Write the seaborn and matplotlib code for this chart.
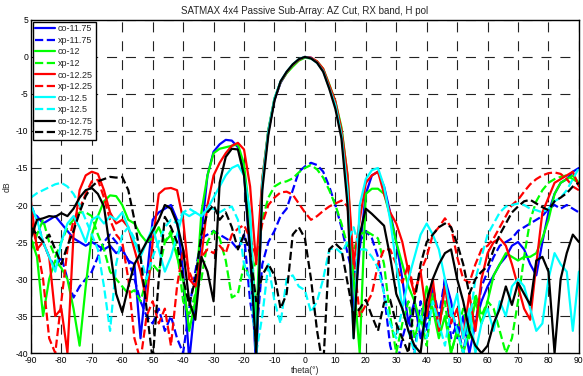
import numpy as np
import pandas as pd
import matplotlib
matplotlib.use("Agg")
import matplotlib.pyplot as plt
import seaborn as sns

# angle grid (deg), one sample every 2 degrees
theta = list(range(-90, 91, 2))

co_1175 = [-21, -21.5, -22.5, -22, -21.5, -22.5, -23.5, -24.5, -25, -25.5,
           -25, -25.5, -26, -25.5, -26.5, -26, -27.5, -28, -38, -30,
           -22, -21, -20.5, -20, -22, -29, -41, -33, -24, -16,
           -12.8, -11.8, -11.2, -11.3, -12.2, -15.5, -27, -42, -17, -10,
           -5.8, -3.5, -2.1, -1.1, -0.4, 0, -0.1, -0.7, -1.8, -4,
           -6.3, -10.2, -18, -35, -26, -18.5, -16, -15.5, -17.5, -21,
           -25, -30, -36, -33, -38, -35, -31, -37, -30, -33,
           -38, -35, -40, -36, -33, -31, -29.5, -28, -27, -25.5,
           -25, -26, -28, -29.5, -25, -21, -18.5, -17, -16.5, -15.5,
           -15]
xp_1175 = [-20, -22, -25, -27, -28.5, -27, -30, -32.5, -31, -30,
           -29, -27, -25, -24, -25, -26, -27.5, -30, -33, -35,
           -36, -34, -37, -35, -38, -40, -34, -29, -24.5, -24,
           -23.5, -24, -24.5, -25, -26, -24, -33, -38, -28, -25,
           -23.5, -21.5, -20.5, -18, -15.5, -14.8, -14.3, -14.6, -15.5, -17.5,
           -20, -23, -26.5, -30, -25, -23.5, -24.5, -27, -32, -39,
           -42, -38, -35, -40, -33, -37, -31, -35, -30, -38,
           -36, -40, -35, -36, -31, -29, -27, -25.5, -25, -24.5,
           -23.5, -23, -22.5, -22, -21.5, -20.5, -20, -20.5, -20, -20.5,
           -21]
co_12 = [-24.5, -27, -35, -30, -27.5, -28.5, -30, -34, -39, -31,
         -24, -21.5, -19.5, -18.7, -18.8, -20, -22, -22.5, -24, -25,
         -24.5, -23, -25, -24, -27, -30, -37, -33, -21, -16,
         -13, -12.4, -12.2, -12, -11.8, -14.5, -22, -36, -16.5, -9.8,
         -5.6, -3.4, -2.2, -1.3, -0.5, -0.1, -0.2, -0.6, -1.6, -3.7,
         -6, -9.5, -16, -30, -40, -18.5, -17.8, -17.8, -18.5, -21.5,
         -25, -28, -31, -33, -36, -31, -34, -38, -35, -40,
         -37, -40, -37, -33, -36, -33, -29.5, -28, -26.5, -27,
         -27.5, -27, -27, -26.5, -24.5, -22, -18.5, -17, -16.5, -16,
         -17]
xp_12 = [-26, -24, -22, -25, -27, -25, -23, -22, -21, -21,
         -21.5, -24, -26, -29, -30, -31, -32, -31.5, -33, -30,
         -28, -29, -25, -23.5, -26, -33, -35, -32, -30, -25,
         -23.5, -24.5, -27.5, -32.5, -32, -28, -30, -27.5, -22, -19,
         -17.5, -17, -16.8, -16.4, -15.6, -15, -14.6, -15.2, -16.3, -18,
         -20, -22.5, -25.5, -26, -24, -23.5, -24, -24.5, -28, -35,
         -40, -36, -33, -38, -35, -39, -32, -36, -33, -40,
         -37, -34, -38, -32, -35, -33, -34, -37, -40, -38,
         -33, -27, -22, -19.5, -18, -17, -16.5, -16.2, -16, -16.5,
         -17]
co_1225 = [-19.5, -26, -25, -27, -35, -34, -40, -24, -18, -16,
           -15.5, -15.8, -18, -21, -22.5, -22, -23, -26, -29, -33,
           -25, -18.5, -17.8, -17.7, -18, -22, -30, -31, -27, -20,
           -16, -14.3, -13, -12, -11.6, -12.5, -17.5, -28, -16.5, -10,
           -5.7, -3.4, -2.1, -1.1, -0.4, 0, -0.1, -0.6, -1.6, -3.8,
           -6, -9.8, -16, -28, -22, -17, -16, -15.5, -18.5, -21,
           -22.5, -25, -29, -32, -29, -35, -30, -37, -31, -36,
           -34, -38, -32, -37, -30, -26.5, -25, -24.5, -25.5, -28,
           -31, -34, -35.5, -28, -21, -19, -17, -16.5, -16, -15.5,
           -17.5]
xp_1225 = [-22, -25.5, -30, -38, -40, -33, -26, -22, -20.5, -18.5,
           -16.8, -16.6, -19, -22, -24, -25, -30, -38, -41, -35,
           -33, -36, -34, -39, -31, -26, -29, -31, -27, -26,
           -26.5, -25.5, -26.5, -24, -23.2, -22.7, -24.5, -27, -22.5, -20,
           -19, -18.3, -18.2, -18.6, -19.8, -21, -22, -21.5, -20.8, -20.2,
           -19.8, -19.4, -20.2, -27, -35, -33.5, -32, -28, -26, -26,
           -28, -30.5, -28, -32, -29, -27, -24, -23, -21.8, -23,
           -27, -30, -30.5, -28, -26, -25.5, -24.5, -23, -21.5, -20,
           -19.3, -18.2, -17.2, -16.5, -16, -15.7, -15.6, -15.8, -16.5, -17.5,
           -18]
co_125 = [-20, -22, -25, -27, -29, -25, -22.5, -21.5, -23, -25,
          -22, -21.5, -22.5, -21.5, -22, -21, -23, -25, -27, -25,
          -23, -26, -29, -27, -24, -21, -21.5, -21, -21.5, -20.5,
          -19, -17.5, -16, -15, -14.6, -16, -21, -40, -17, -10,
          -5.6, -3.3, -2.0, -1.0, -0.3, 0, -0.2, -0.8, -1.9, -4.2,
          -6.5, -10.5, -18, -38, -20, -16.5, -15.3, -15, -17.5, -22,
          -28, -34, -30, -27, -24, -22.5, -24, -26, -30, -35,
          -32, -38, -34, -40, -36, -34, -37, -33, -35, -31,
          -30, -31, -34, -37, -36, -30, -26.5, -28, -29, -37,
          -29]
xp_125 = [-19, -18.4, -18, -17.6, -17.2, -17, -17.5, -18.5, -20, -22,
          -24, -26, -31, -37, -28, -24, -23, -24.5, -27, -30,
          -27, -25, -23, -22, -22.5, -21, -20.5, -21, -21.5, -20.5,
          -20.5, -21, -20.5, -20.2, -22, -28, -30, -40, -35, -28,
          -33, -36, -30, -29.5, -31, -31.5, -34.5, -33, -30, -26,
          -25.8, -26.5, -25, -23, -26, -26, -27, -28.5, -32, -36,
          -38, -34, -37, -40, -35, -38, -33, -36, -39, -34,
          -37, -40, -36, -30, -27, -24, -22.5, -21, -20.2, -20,
          -19.8, -20, -20.5, -20.7, -21, -20.5, -19.5, -19, -18, -16.5,
          -15]
co_1275 = [-24.5, -22, -21.8, -21.5, -21.6, -21.1, -21.5, -20.5, -19, -18,
           -17.7, -18.5, -20.2, -26, -32, -34.5, -31, -28, -26.5, -25,
           -23.5, -22, -20, -20.5, -22.5, -26, -33, -35.5, -27, -29,
           -33, -17, -13.5, -12.4, -12.5, -16, -26, -40, -18, -10.5,
           -5.9, -3.3, -2.0, -1.0, -0.3, 0, -0.2, -0.8, -2.0, -4.3,
           -7, -11, -20, -38, -24, -20.5, -21.2, -22, -22.8, -27,
           -32, -34, -37, -39, -40, -33, -30, -28, -26.5, -26,
           -30, -33, -37, -39, -40, -39, -36, -34, -31, -33.5,
           -30.5, -32, -33.5, -27.5, -27, -29, -40, -30, -26.5, -24,
           -25]
xp_1275 = [-23, -24, -25, -24, -26, -28, -25.5, -23.5, -21, -18.8,
           -17.5, -16.8, -16.5, -16.2, -16.3, -16.2, -18, -22, -27, -34,
           -41, -30, -21.6, -23, -25, -30, -33.5, -30, -24, -21,
           -20, -22, -21, -23, -26, -24, -26.5, -33, -29.5, -28,
           -29.5, -34, -32, -24, -23, -24.5, -30, -37, -42, -26,
           -25.2, -26, -30.5, -35, -34, -32.8, -35, -37, -33.2, -32.8,
           -36, -38, -40, -33, -28, -25, -24, -23, -22.5, -23,
           -25.2, -28, -32, -30, -29, -28.3, -26, -24, -22.5, -21,
           -20.2, -19.5, -19.3, -19.8, -20.3, -20.7, -19.5, -19, -18.4, -17.5,
           -17]

labels = ['co-11.75', 'xp-11.75', 'co-12', 'xp-12', 'co-12.25', 'xp-12.25',
          'co-12.5', 'xp-12.5', 'co-12.75', 'xp-12.75']
series = [co_1175, xp_1175, co_12, xp_12, co_1225, xp_1225,
          co_125, xp_125, co_1275, xp_1275]
colors = ['#0000ff', '#0000ff', '#00ff00', '#00ff00', '#ff0000', '#ff0000',
          '#00ffff', '#00ffff', '#000000', '#000000']
styles = ['-', '--'] * 5

for s in series:
    assert len(s) == len(theta)

sns.set_style("white")
plt.rcParams['font.family'] = ['Liberation Sans', 'DejaVu Sans']
plt.rcParams['axes.unicode_minus'] = False

fig = plt.figure(figsize=(5.83, 3.76), dpi=100)
ax = fig.add_axes([0.053, 0.061, 0.940, 0.886])

for lab, vals, col, ls in zip(labels, series, colors, styles):
    df = pd.DataFrame({'theta': theta, 'dB': vals})
    sns.lineplot(data=df, x='theta', y='dB', ax=ax, color=col, linestyle=ls,
                 linewidth=1.6, label=lab, dashes=False if ls == '-' else (3, 2))

ax.set_xlim(-90, 90)
ax.set_ylim(-40, 5)
ax.set_xticks(range(-90, 91, 10))
ax.set_yticks(range(-40, 6, 5))
ax.tick_params(axis='both', labelsize=6.2, direction='in', length=3, pad=2,
               colors='black')
ax.grid(True, color='#222222', linestyle=(0, (9, 8)), linewidth=0.8)
for sp in ax.spines.values():
    sp.set_color('black')
    sp.set_linewidth(1.0)

ax.set_title('SATMAX 4x4 Passive Sub-Array: AZ Cut, RX band, H pol',
             fontsize=7, pad=4)
ax.set_xlabel('theta(°)', fontsize=6.2, labelpad=1)
ax.set_ylabel('dB', fontsize=6.2, labelpad=3)

leg = ax.legend(loc='upper left', fontsize=6.5, frameon=True, fancybox=False,
                borderaxespad=0.2, handlelength=2.2, handletextpad=0.3,
                labelspacing=0.28, borderpad=0.3)
leg.get_frame().set_edgecolor('black')
leg.get_frame().set_linewidth(1.0)
leg.get_frame().set_alpha(1)

fig.savefig('out.png', dpi=100)
